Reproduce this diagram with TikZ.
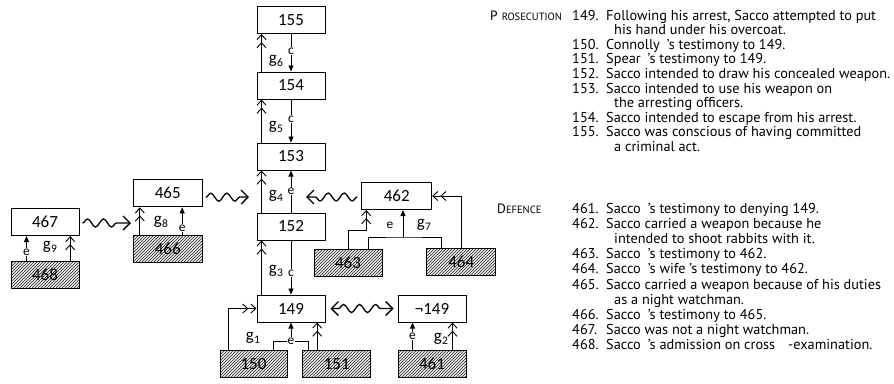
\documentclass[tikz,border=0pt]{standalone}
\usepackage{fontspec}
\setmainfont{Carlito}
\newfontfamily\txtfont{PT Sans}
\usetikzlibrary{arrows.meta,decorations.pathmorphing,patterns,calc}
\newcommand\gl[1]{g\kern0.3pt\raisebox{-2.5pt}{\fontsize{11.5}{11.5}\selectfont #1}}
\begin{document}
\begin{tikzpicture}[x=1pt,y=-1pt,
  box/.style={draw, line width=1pt, minimum width=68pt, minimum height=27pt, inner sep=0pt, font=\fontsize{17}{17}\selectfont},
  hbox/.style={box, preaction={fill=black!8}, pattern=north east lines, pattern color=black!85},
  lbl/.style={fill=white, inner sep=0.6pt, font=\fontsize{13.5}{13.5}\selectfont},
  glbl/.style={inner sep=0pt, font=\fontsize{17}{17}\selectfont},
  dbl/.style={line width=0.9pt, -{Straight Barb[length=5pt,width=9pt,sep=2pt]Straight Barb[length=5pt,width=9pt]}},
  fil/.style={line width=0.9pt, -{Triangle[length=6pt,width=5pt]}},
  wave/.style={line width=1.3pt, decorate, decoration={snake, amplitude=4pt, segment length=16pt, post length=8pt}, -{Straight Barb[length=7pt,width=14pt]}},
  wave2/.style={line width=1.3pt, decorate, decoration={snake, amplitude=4pt, segment length=16pt, pre length=8pt, post length=8pt}, {Straight Barb[length=7pt,width=14pt]}-{Straight Barb[length=7pt,width=14pt]}},
  txt/.style={anchor=base west, inner sep=0pt, font=\txtfont\fontsize{14.3}{16}\selectfont}
]
\useasboundingbox (0,0) rectangle (894,383);

% main column
\node[box] (n155) at (291,20) {155};
\node[box] (n154) at (291,85.5) {154};
\node[box] (n153) at (291,156.5) {153};
\node[box] (n152) at (291,226.5) {152};
\node[box] (n149) at (291,308.5) {149};
\node[hbox, minimum width=67pt] (n150) at (253.5,364) {150};
\node[hbox] (n151) at (336.7,364) {151};
\node[box] (nn149) at (432,308.5) {\char"00AC 149};
\node[hbox] (n461) at (432,364) {461};
\node[box, minimum width=70pt] (n462) at (396.7,196) {462};
\node[hbox] (n463) at (348,262.5) {463};
\node[hbox, minimum width=69pt] (n464) at (461.2,261.5) {464};
\node[box, minimum width=69pt] (n465) at (167.8,193.3) {465};
\node[hbox, minimum width=69pt] (n466) at (167.8,249) {466};
\node[box] (n467) at (45,222) {467};
\node[hbox] (n468) at (45,274.5) {468};

% g6, g5, g4, g3 generalisation links
\draw[dbl] ($(n154.north west)+(5,0)$) -- ($(n155.south west)+(5,0)$);
\draw[dbl] ($(n153.north west)+(5,0)$) -- ($(n154.south west)+(5,0)$);
\draw[dbl] ($(n152.north west)+(5,0)$) -- ($(n153.south west)+(5,0)$);
\draw[dbl] ($(n149.north west)+(5,0)$) -- ($(n152.south west)+(5,0)$);
\node[glbl] (g6) at (276,61) {\gl{6}};
\node[glbl] (g5) at (276,127) {\gl{5}};
\node[glbl] (g4) at (276,196) {\gl{4}};
\node[glbl] (g3) at (276,271) {\gl{3}};

% c and e links in main column
\draw[fil] (n155.south) -- node[lbl, pos=0.45] (c1) {c} (n154.north);
\draw[fil] (n154.south) -- node[lbl, pos=0.45] (c2) {c} (n153.north);
\draw[fil] (n152.north) -- node[lbl, pos=0.5] (e4) {e} (n153.south);
\draw[fil] (n152.south) -- node[lbl, pos=0.6] (c3) {c} (n149.north);

% 149 supports
\draw[dbl] ($(n150.north west)+(9,0)$) |- (n149.west);
\node[lbl] (e1) at (291,341) {e};
\draw[line width=0.9pt] ($(n150.north east)+(-14,0)$) |- (e1.west);
\draw[line width=0.9pt] ($(n151.north west)+(6.5,0)$) |- (e1.east);
\draw[fil] (e1.north) -- (n149.south);
\coordinate (a151) at ($(n151.north west)+(15,0)$);
\draw[dbl] (a151) -- (a151 |- n149.south);
\node[glbl] (g1) at (253,338) {\gl{1}};

% not-149
\coordinate (a461e) at ($(n461.north west)+(15,0)$);
\draw[fil] (a461e) -- node[lbl] (e2) {e} (a461e |- nn149.south);
\coordinate (a461g) at ($(n461.north east)+(-14,0)$);
\draw[dbl] (a461g) -- (a461g |- nn149.south);
\node[glbl] (g2) at (441,339) {\gl{2}};
\draw[wave2] ($(n149.east)+(5,0)$) -- ($(nn149.west)+(-4,0)$);

% 462
\coordinate (k1) at ($(n462.south west)+(5,0)$);
\draw[dbl] (n463.north) -- ++(0,-18) -| (k1);
\coordinate (j7) at (403,237);
\coordinate (a463r) at ($(n463.north east)+(-14,0)$);
\coordinate (a464l) at ($(n464.north west)+(15,0)$);
\draw[line width=0.9pt] (a463r) |- (j7) -| (a464l);
\draw[fil] (j7) -- (j7 |- n462.south);
\draw[dbl] (n464.north) |- (n462.east);
\node[lbl, fill=none] (e7) at (390,225) {e};
\node[glbl] (g7) at (424,225) {\gl{7}};
\coordinate (w3) at (306,197);
\draw[wave] ($(n462.west)+(-4,1)$) -- (w3);

% 465
\coordinate (a466g) at ($(n466.north west)+(7,0)$);
\draw[dbl] (a466g) -- (a466g |- n465.south);
\coordinate (a466e) at ($(n466.north east)+(-20.6,0)$);
\draw[fil] (a466e) -- node[lbl, pos=0.25] (e8) {e} (a466e |- n465.south);
\node[glbl] (g8) at (161,222) {\gl{8}};
\coordinate (w2) at (249,197);
\draw[wave] ($(n465.east)+(3,4)$) -- (w2);

% 467
\coordinate (a468e) at ($(n468.north west)+(16,0)$);
\draw[fil] (a468e) -- node[lbl, pos=0.35] (e9) {e} (a468e |- n467.south);
\coordinate (a468g) at ($(n468.north east)+(-9.3,0)$);
\draw[dbl] (a468g) -- (a468g |- n467.south);
\node[glbl] (g9) at (50,247) {\gl{9}};
\coordinate (w1) at (131,223);
\draw[wave] ($(n467.east)+(3,1)$) -- (w1);

% key text: prosecution
\node[txt] (hp) at (490,20) {{\fontsize{13.5}{16}\selectfont P}\hspace{4pt}{\fontsize{10.5}{13}\selectfont ROSECUTION}};
\node[txt] (p1) at (572,20) {149.};
\node[txt] (p1t) at (606,20) {Following his arrest, Sacco attempted to put};
\node[txt] (p1b) at (614,34.6) {his hand under his overcoat.};
\node[txt] (p2) at (572,49.2) {150.};
\node[txt] (p2t) at (606,49.2) {Connolly\hspace{7pt}’s testimony to 149.};
\node[txt] (p3) at (572,63.8) {151.};
\node[txt] (p3t) at (606,63.8) {Spear\hspace{7pt}’s testimony to 149.};
\node[txt] (p4) at (572,78.4) {152.};
\node[txt] (p4t) at (606,78.4) {Sacco intended to draw his concealed weapon.};
\node[txt] (p5) at (572,93) {153.};
\node[txt] (p5t) at (606,93) {Sacco intended to use his weapon on};
\node[txt] (p5b) at (614,107.6) {the arresting officers.};
\node[txt] (p6) at (572,122.2) {154.};
\node[txt] (p6t) at (606,122.2) {Sacco intended to escape from his arrest.};
\node[txt] (p7) at (572,136.8) {155.};
\node[txt] (p7t) at (606,136.8) {Sacco was conscious of having committed};
\node[txt] (p7b) at (614,151.4) {a criminal act.};

% key text: defence
\node[txt] (hd) at (497,213) {{\fontsize{13.5}{16}\selectfont D}{\fontsize{10.5}{13}\selectfont EFENCE}};
\node[txt] (d1) at (572,213) {461.};
\node[txt] (d1t) at (606,213) {Sacco\hspace{7pt}’s testimony to denying 149.};
\node[txt] (d2) at (572,228.2) {462.};
\node[txt] (d2t) at (606,228.2) {Sacco carried a weapon because he};
\node[txt] (d2b) at (614,243.4) {intended to shoot rabbits with it.};
\node[txt] (d3) at (572,258.6) {463.};
\node[txt] (d3t) at (606,258.6) {Sacco\hspace{7pt}’s testimony to 462.};
\node[txt] (d4) at (572,273.8) {464.};
\node[txt] (d4t) at (606,273.8) {Sacco\hspace{7pt}’s wife ’s testimony to 462.};
\node[txt] (d5) at (572,289) {465.};
\node[txt] (d5t) at (606,289) {Sacco carried a weapon because of his duties};
\node[txt] (d5b) at (614,304.2) {as a night watchman.};
\node[txt] (d6) at (572,319.4) {466.};
\node[txt] (d6t) at (606,319.4) {Sacco\hspace{7pt}’s testimony to 465.};
\node[txt] (d7) at (572,334.6) {467.};
\node[txt] (d7t) at (606,334.6) {Sacco was not a night watchman.};
\node[txt] (d8) at (572,349.8) {468.};
\node[txt] (d8t) at (606,349.8) {Sacco\hspace{7pt}’s admission on cross\hspace{13pt}-examination.};
\end{tikzpicture}
\end{document}
